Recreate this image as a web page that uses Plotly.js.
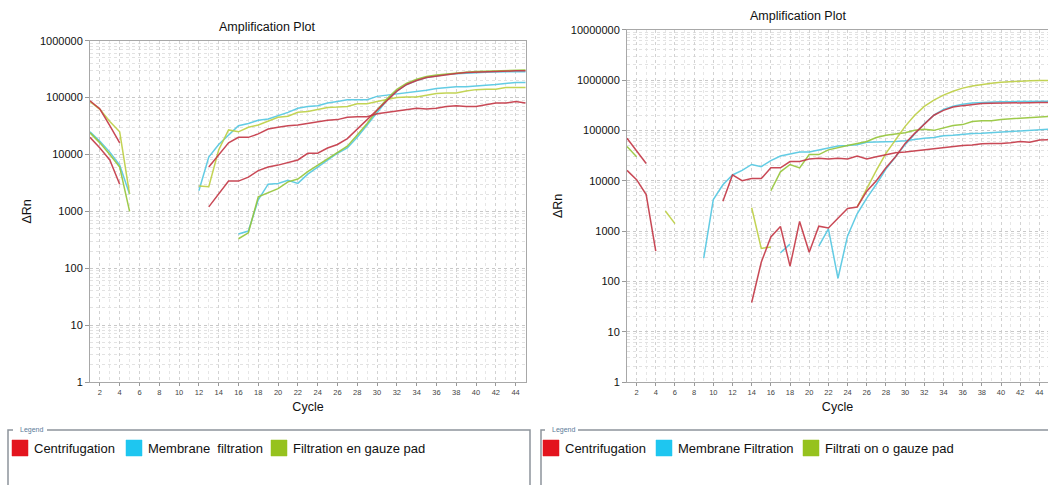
<!DOCTYPE html>
<html><head><meta charset="utf-8">
<script src="https://cdn.plot.ly/plotly-3.0.1.min.js"></script>
<style>html,body{margin:0;padding:0;background:#fff;}#chart{width:1048px;height:485px;}</style>
</head><body><div id="chart"></div>
<script>
const n = null;
const cycles = [1,2,3,4,5,6,7,8,9,10,11,12,13,14,15,16,17,18,19,20,21,22,23,24,25,26,27,28,29,30,31,32,33,34,35,36,37,38,39,40,41,42,43,44,45];
const xTickVals = [2,4,6,8,10,12,14,16,18,20,22,24,26,28,30,32,34,36,38,40,42,44];
const xTickText = ['2','4','6','8','10','12','14','16','18','20','22','24','26','28','30','32','34','36','38','40','42','44'];
const yTickValsA = [1,10,100,1000,10000,100000,1000000];
const yTickTextA = ['1','10','100','1000','10000','100000','1000000'];
const yTickValsB = [1,10,100,1000,10000,100000,1000000,10000000];
const yTickTextB = ['1','10','100','1000','10000','100000','1000000','10000000'];
const legendA = ['Centrifugation','Membrane\u00a0 filtration','Filtration en gauze pad'];
const legendB = ['Centrifugation','Membrane Filtration','Filtrati on o gauze pad'];

// Left plot
const A_centri_1 = [88000,63000,32000,16000,n,n,n,n,n,n, n,n,1200,2000,3400,3400,4000,5200,6000,6500, 7200,8000,10500,10500,13000,15000,19000,28000,40000,60000, 90000,130000,170000,200000,225000,240000,255000,265000,275000,280000, 285000,290000,290000,295000,295000];
const A_centri_2 = [20000,13000,8000,3000,n,n,n,n,n,n, n,n,6000,10000,16000,20000,20000,23000,28000,30000, 32000,33000,35000,38000,40000,41000,45000,46000,46000,52000, 55000,58000,60000,65000,63000,65000,70000,72000,70000,70000, 75000,80000,80000,85000,80000];
const A_membr_1 = [25000,17000,11000,6500,2000,n,n,n,n,n, n,2300,9000,15000,22000,32000,35000,40000,42000,48000, 55000,65000,70000,72000,80000,85000,92000,92000,92000,105000, 110000,115000,120000,125000,135000,145000,150000,155000,155000,158000, 165000,170000,180000,185000,185000];
const A_membr_2 = [n,n,n,n,n,n,n,n,n,n, n,n,n,n,n,400,450,1600,3000,3100, 3500,3100,4500,6000,8000,10500,13000,20000,33000,55000, 90000,130000,170000,200000,225000,240000,255000,262000,270000,275000, 280000,282000,285000,285000,285000];
const A_gauze_1 = [85000,62000,38000,25000,2000,n,n,n,n,n, n,2800,2700,12000,27000,25000,30000,33000,38000,45000, 47000,55000,57000,62000,67000,68000,70000,78000,78000,85000, 92000,100000,102000,102000,110000,118000,120000,120000,130000,138000, 140000,140000,150000,150000,150000];
const A_gauze_2 = [24000,16000,10000,6000,1000,n,n,n,n,n, n,n,n,n,n,330,420,1800,2100,2500, 3300,3700,5000,6500,8500,11000,14000,22000,35000,60000, 95000,140000,180000,210000,235000,250000,262000,272000,280000,288000, 292000,297000,300000,302000,305000];

// Right plot
const B_centri_1 = [70000,40000,22000,n,n,n,n,n,n,n, 3900,13000,10000,11000,11000,18000,18000,24000,24000,27000, 28000,27000,28000,27000,31000,27000,30000,33000,36000,37000, 39000,41000,44000,45000,49000,50000,51000,54000,55000,55000, 57000,60000,58000,64000,65000];
const B_centri_2 = [16000,10500,5300,400,n,n,n,n,n,n, n,n,n,38,240,760,1230,200,1550,380, 1250,1150,1800,2800,3000,6200,10000,18000,30000,55000, 87000,135000,200000,250000,290000,310000,330000,340000,345000,350000, 352000,354000,355000,356000,356000];
const B_membr_1 = [n,n,n,n,n,n,n,n,290,4200, 8300,13000,16000,21000,19000,25000,31000,34000,37000,37000, 41000,45000,49000,50000,52000,58000,58000,58000,60000,62000, 66000,70000,72000,78000,80000,84000,87000,88000,90000,94000, 97000,98000,100000,104000,105000];
const B_membr_2 = [n,n,n,n,n,n,n,n,n,n, n,n,n,n,n,n,370,550,n,n, 500,1100,115,800,2200,4500,8500,17000,30000,52000, 85000,135000,200000,260000,300000,330000,350000,360000,365000,370000, 372000,375000,377000,380000,380000];
const B_gauze_1 = [48000,30000,n,n,n,n,n,n,n,n, n,n,n,n,n,6300,15000,21000,18000,33000, 33000,41000,46000,50000,55000,60000,72000,80000,85000,90000, 100000,105000,100000,110000,125000,130000,150000,155000,155000,165000, 170000,175000,180000,190000,190000];
const B_gauze_2 = [n,n,n,n,2500,1400,n,n,n,n, n,n,n,2900,450,480,n,n,n,n, n,n,n,n,3000,7000,16000,35000,65000,120000, 200000,300000,400000,500000,600000,690000,760000,820000,860000,900000, 930000,950000,970000,980000,980000];

const W = 1048, H = 485;
const px = x => x / W;
const py = y => 1 - y / H;

const C_RED = 'rgb(196,58,72)', C_CYAN = 'rgb(86,200,226)', C_GREEN = 'rgb(150,198,60)', C_YEL = 'rgb(190,208,70)';
const SW = ['#e3141e', '#1ec6f0', '#96c21e'];

function tr(y, color, xa, ya) {
  return {x: cycles, y: y, type: 'scatter', mode: 'lines', connectgaps: false, showlegend: false,
    line: {color: color, width: 1.5}, opacity: 0.92, xaxis: xa, yaxis: ya, hoverinfo: 'skip'};
}
const data = [
  tr(A_membr_1, C_CYAN, 'x', 'y'), tr(A_membr_2, C_CYAN, 'x', 'y'),
  tr(A_gauze_1, C_YEL, 'x', 'y'), tr(A_gauze_2, C_GREEN, 'x', 'y'),
  tr(A_centri_2, C_RED, 'x', 'y'), tr(A_centri_1, C_RED, 'x', 'y'),
  tr(B_membr_1, C_CYAN, 'x2', 'y2'), tr(B_membr_2, C_CYAN, 'x2', 'y2'),
  tr(B_gauze_1, C_GREEN, 'x2', 'y2'), tr(B_gauze_2, C_YEL, 'x2', 'y2'),
  tr(B_centri_1, C_RED, 'x2', 'y2'), tr(B_centri_2, C_RED, 'x2', 'y2')
];

const FONT = 'Liberation Sans, Arial, sans-serif';
function xax(domain, range) {
  return {domain: domain, range: range, tickmode: 'array', tickvals: xTickVals, ticktext: xTickText,
    ticks: 'outside', ticklen: 3, tickcolor: '#999', tickfont: {size: 7.5, color: '#444', family: FONT},
    showgrid: true, gridcolor: '#d2d2d2', griddash: 'dot', gridwidth: 1,
    minor: {dtick: 1, showgrid: true, gridcolor: '#e6e6e6', griddash: 'dot', gridwidth: 1},
    showline: true, linecolor: '#a8a8a8', linewidth: 1, mirror: true, zeroline: false,
    title: {text: 'Cycle', font: {size: 12.5, color: '#111', family: FONT}, standoff: 6}, fixedrange: true};
}
function yax(domain, range, tv, tt, anchor) {
  return {domain: domain, type: 'log', range: range, tickmode: 'array', tickvals: tv, ticktext: tt, anchor: anchor,
    ticks: 'outside', ticklen: 4, tickcolor: '#999', tickfont: {size: 11, color: '#111', family: FONT},
    showgrid: true, gridcolor: '#c8c8c8', griddash: 'dot', gridwidth: 1,
    minor: {dtick: 'D1', showgrid: true, gridcolor: '#e2e2e2', griddash: 'dot', gridwidth: 1, ticks: ''},
    showline: true, linecolor: '#a8a8a8', linewidth: 1, mirror: true, zeroline: false,
    title: {text: 'ΔRn', font: {size: 12.5, color: '#111', family: FONT}, standoff: 5}, fixedrange: true};
}

const shapes = [];
const annotations = [];
function legendBox(x0, x1, labelX0, labelX1, top, labels, items, title) {
  shapes.push({type: 'path', xref: 'paper', yref: 'paper',
    path: `M ${px(labelX0 - 5)} ${py(top)} L ${px(x0)} ${py(top)} L ${px(x0)} ${py(500)}`,
    line: {color: '#8d949c', width: 1.5}});
  shapes.push({type: 'path', xref: 'paper', yref: 'paper',
    path: `M ${px(labelX1 + 4)} ${py(top)} L ${px(x1)} ${py(top)} L ${px(x1)} ${py(500)}`,
    line: {color: '#8d949c', width: 1.5}});
  annotations.push({xref: 'paper', yref: 'paper', x: px(labelX0), y: py(top), xanchor: 'left', yanchor: 'middle',
    text: title, showarrow: false, font: {size: 7, color: '#5b7a99', family: FONT}});
  items.forEach((it, i) => {
    shapes.push({type: 'rect', xref: 'paper', yref: 'paper', x0: px(it[0]), x1: px(it[0] + 16), y0: py(456), y1: py(440),
      fillcolor: SW[i], line: {color: SW[i], width: 0.5}});
    annotations.push({xref: 'paper', yref: 'paper', x: px(it[1]), y: py(448), xanchor: 'left', yanchor: 'middle',
      text: labels[i], showarrow: false, font: {size: 13, color: '#111', family: FONT}});
  });
}
legendBox(8, 530, 18, 43, 430, legendA, [[12, 32], [126, 146], [271, 291]], 'Legend');
legendBox(541, 1060, 550, 574, 430, legendB, [[543, 563], [656, 676], [803, 823]], 'Legend');

annotations.push({xref: 'paper', yref: 'paper', x: px(267), y: py(27), xanchor: 'center', yanchor: 'middle',
  text: 'Amplification Plot', showarrow: false, font: {size: 12.5, color: '#111', family: FONT}});
annotations.push({xref: 'paper', yref: 'paper', x: px(798), y: py(16), xanchor: 'center', yanchor: 'middle',
  text: 'Amplification Plot', showarrow: false, font: {size: 12.5, color: '#111', family: FONT}});

const layout = {
  width: W, height: H, margin: {l: 0, r: 0, t: 0, b: 0, autoexpand: false},
  paper_bgcolor: '#fff', plot_bgcolor: '#fff', showlegend: false,
  font: {family: FONT},
  xaxis: xax([px(90), px(526)], [1, 45.05]),
  yaxis: yax([py(382), py(40.7)], [0, 6], yTickValsA, yTickTextA, 'x'),
  xaxis2: Object.assign(xax([px(627), 1], [1, 44.9]), {anchor: 'y2'}),
  yaxis2: yax([py(382), py(29.7)], [0, 7], yTickValsB, yTickTextB, 'x2'),
  shapes: shapes, annotations: annotations
};
layout.xaxis.anchor = 'y';
Plotly.newPlot('chart', data, layout, {staticPlot: true, displayModeBar: false});
</script></body></html>
